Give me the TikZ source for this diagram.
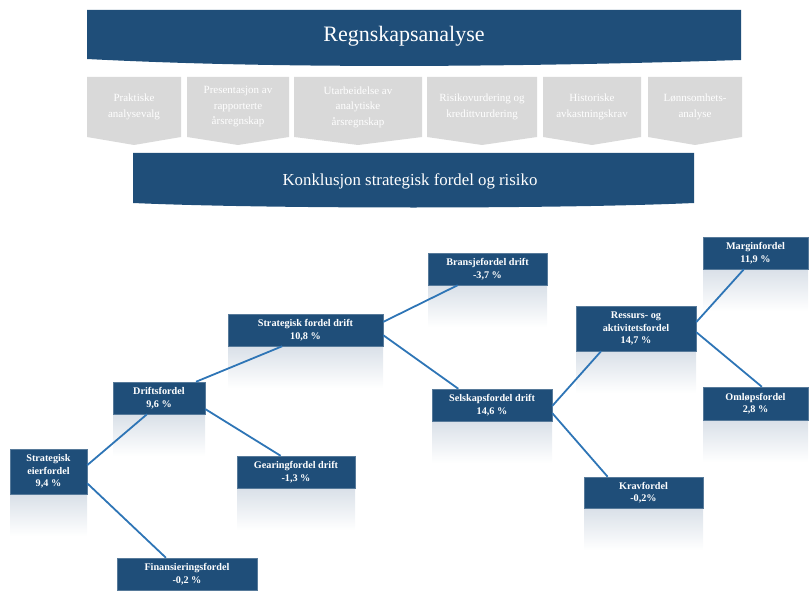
\documentclass[tikz,border=0pt]{standalone}
\usepackage{fontspec}
\setmainfont{Liberation Serif}
\usetikzlibrary{calc}
\definecolor{navy}{HTML}{1F4E79}
\definecolor{chevgray}{HTML}{D9D9D9}
\definecolor{linkblue}{HTML}{2E75B6}
\definecolor{refl}{HTML}{D9E0E8}

% tree box with a fading reflection underneath: name, cx, cy, width, height, text
\newcommand\treenode[6]{%
  \shade[top color=refl, bottom color=white]
    ({#2-#4/2},{#3+#5/2}) rectangle ({#2+#4/2},{#3+#5/2+42});
  \node[treebox, minimum width=#4pt, minimum height=#5pt] (#1) at (#2,#3) {#6};
}
% grey step arrow: name, left x, right x, text
\newcommand\stepchevron[4]{%
  \fill[chevgray] (#2,77) -- (#3,77) -- (#3,137) -- ({(#2+#3)/2},145) -- (#2,137) -- cycle;
  \node[chevtext] (#1) at ({(#2+#3)/2},107) {#4};
}

\begin{document}
\begin{tikzpicture}[x=1pt,y=-1pt,
  chevtext/.style={text=white, align=center, inner sep=0pt,
    font=\fontsize{11}{15.5}\selectfont},
  treebox/.style={fill=navy, draw=navy!75!white, line width=0.5pt, text=white,
    align=center, inner sep=0pt, font=\fontsize{10.2}{12.5}\selectfont\bfseries},
  banner/.style={fill=navy},
  branch/.style={draw=linkblue, line width=1.8pt}
]
\useasboundingbox (0,0) rectangle (811,591);

% header banner with wavy lower edge
\fill[banner] (87,10) -- (741,10) -- (741,60)
  .. controls (550,66) and (300,70) .. (87,59) -- cycle;
\node[text=white, font=\fontsize{22}{26}\selectfont] (title) at (404,36) {Regnskapsanalyse};

% analysis steps
\stepchevron{s1}{87}{181}{Praktiske\\analysevalg}
\stepchevron{s2}{187}{289}{Presentasjon av\\rapporterte\\årsregnskap}
\stepchevron{s3}{294}{422}{Utarbeidelse av\\analytiske\\årsregnskap}
\stepchevron{s4}{427}{537}{Risikovurdering og\\kredittvurdering}
\stepchevron{s5}{543}{641}{Historiske\\avkastningskrav}
\stepchevron{s6}{648}{742}{Lønnsomhets-\\analyse}

% conclusion banner
\fill[banner] (133,153) -- (694,153) -- (694,203)
  .. controls (560,209) and (267,209) .. (133,203) -- cycle;
\node[text=white, font=\fontsize{16.8}{20}\selectfont] (concl) at (410,181) {Konklusjon strategisk fordel og risiko};

% decomposition tree
\treenode{se}{48.5}{471.5}{77}{45}{Strategisk\\eierfordel\\9,4 \%}
\treenode{df}{159}{398}{92}{32}{Driftsfordel\\9,6 \%}
\treenode{ff}{187}{574}{140}{32}{Finansieringsfordel\\-0,2 \%}
\treenode{gd}{296}{472}{118}{32}{Gearingfordel drift\\-1,3 \%}
\treenode{sfd}{305.5}{330}{155}{32}{Strategisk fordel drift\\10,8 \%}
\treenode{bd}{487.5}{269}{119}{32}{Bransjefordel drift\\-3,7 \%}
\treenode{sd}{492}{405}{120}{32}{Selskapsfordel drift\\14,6 \%}
\treenode{ra}{636}{328.5}{120}{45}{Ressurs- og\\aktivitetsfordel\\14,7 \%}
\treenode{mf}{755.5}{253}{105}{32}{Marginfordel\\11,9 \%}
\treenode{of}{755.5}{403.5}{105}{33}{Omløpsfordel\\2,8 \%}
\treenode{kf}{643.5}{492.5}{119}{31}{Kravfordel\\-0,2\%}

% connectors
\draw[branch] ($(se.north east)!0.36!(se.south east)$) -- ($(df.south west)!0.37!(df.south east)$);
\draw[branch] ($(se.north east)!0.76!(se.south east)$) -- ($(ff.north west)!0.35!(ff.north east)$);
\draw[branch] ($(df.north east)!0.84!(df.south east)$) -- ($(gd.north west)!0.37!(gd.north east)$);
\draw[branch] ($(df.north west)!0.9!(df.north east)$) -- ($(sfd.south west)!0.35!(sfd.south east)$);
\draw[branch] ($(sfd.north east)!0.25!(sfd.south east)$) -- ($(bd.south west)!0.25!(bd.south east)$);
\draw[branch] ($(sfd.north east)!0.66!(sfd.south east)$) -- ($(sd.north west)!0.22!(sd.north east)$);
\draw[branch] ($(sd.north east)!0.53!(sd.south east)$) -- ($(ra.south west)!0.21!(ra.south east)$);
\draw[branch] ($(sd.north east)!0.75!(sd.south east)$) -- ($(kf.north west)!0.2!(kf.north east)$);
\draw[branch] ($(ra.north east)!0.36!(ra.south east)$) -- ($(mf.south west)!0.39!(mf.south east)$);
\draw[branch] ($(ra.north east)!0.58!(ra.south east)$) -- ($(of.north west)!0.56!(of.north east)$);
\end{tikzpicture}
\end{document}
